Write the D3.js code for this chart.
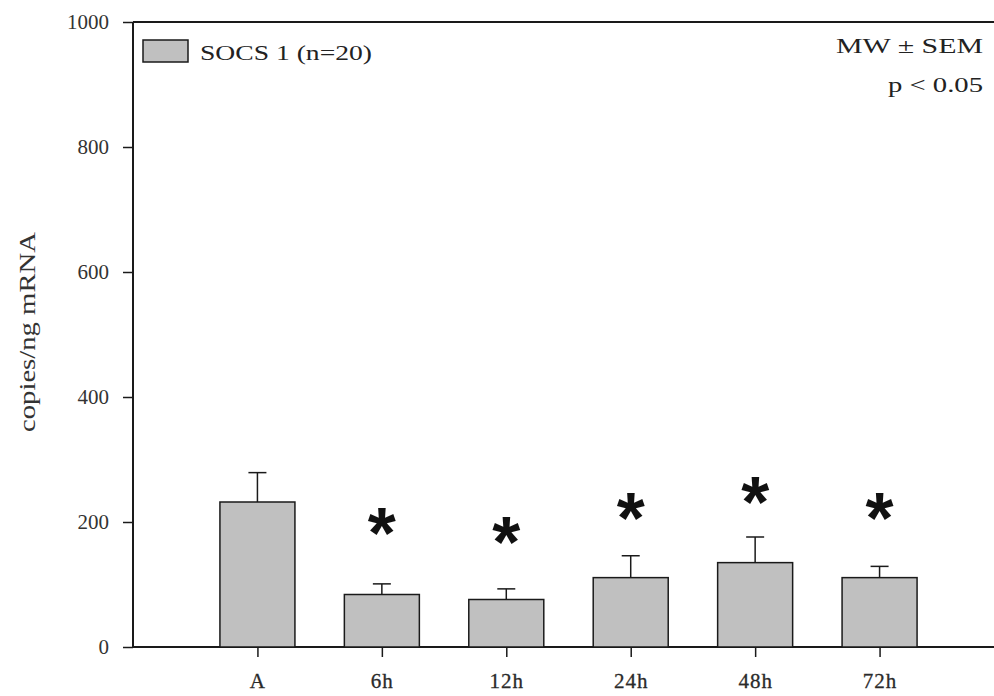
<!DOCTYPE html>
<html>
<head>
<meta charset="utf-8">
<script src="https://cdn.jsdelivr.net/npm/d3@7"></script>
<style>
  html, body { margin: 0; padding: 0; background: #fff; }
  svg { display: block; }
</style>
</head>
<body>
<svg id="chart" width="994" height="696"></svg>
<script>
// SOCS 1 expression over time (copies/ng mRNA), mean with SEM
const categories = ["A", "6h", "12h", "24h", "48h", "72h"];
const means = [232, 84, 76, 111, 135, 111];
const sems = [47, 17, 17, 35, 41, 18];
const significant = [false, true, true, true, true, true];
const starLevels = [null, 198, 184, 222, 248, 222];
const yTicks = [0, 200, 400, 600, 800, 1000];

const svg = d3.select("#chart");
const plotLeft = 133, plotTop = 22, plotBottom = 647, plotRight = 1004;

const x = d3.scaleLinear().domain([0, 7]).range([plotLeft, plotRight]);
const y = d3.scaleLinear().domain([0, 1000]).range([plotBottom, plotTop]);
const barW = 75;
const ink = "#1a1a1a";
const serif = "'Liberation Serif', 'Times New Roman', serif";

// Y axis
const yAxis = svg.append("g")
  .attr("transform", `translate(${plotLeft},0)`)
  .call(d3.axisLeft(y).tickValues(yTicks).tickSize(10).tickPadding(14).tickFormat(d3.format("d")));
yAxis.select(".domain").attr("stroke", ink).attr("stroke-width", 2).attr("d", `M0,${plotBottom}V${plotTop}`);
yAxis.selectAll(".tick line").attr("stroke", ink).attr("stroke-width", 1.5);
yAxis.selectAll(".tick text").attr("font-family", serif).attr("font-size", 21).attr("fill", "#333")
  .attr("dy", "0.3em");

// X axis
const xAxis = svg.append("g")
  .attr("transform", `translate(0,${plotBottom})`)
  .call(d3.axisBottom(x).tickValues(d3.range(1, categories.length + 1)).tickSize(10).tickPadding(16)
    .tickFormat(i => categories[i - 1]));
xAxis.select(".domain").attr("stroke", ink).attr("stroke-width", 2).attr("d", `M${plotLeft},0H${plotRight}`);
xAxis.selectAll(".tick line").attr("stroke", ink).attr("stroke-width", 1.5);
xAxis.selectAll(".tick text").attr("font-family", serif).attr("font-size", 21)
  .attr("letter-spacing", 1).attr("fill", "#2a2a2a")
  .attr("stroke", "#2a2a2a").attr("stroke-width", 0.3);

// Top frame line
svg.append("line").attr("x1", plotLeft).attr("x2", plotRight).attr("y1", plotTop).attr("y2", plotTop)
  .attr("stroke", ink).attr("stroke-width", 2);

const rows = categories.map((c, i) => ({ c, i, m: means[i], s: sems[i], sig: significant[i], star: starLevels[i] }));

// Error bars (upper half only)
const eb = svg.append("g").attr("stroke", ink).attr("stroke-width", 1.5);
eb.selectAll("line.v").data(rows).join("line").attr("class", "v")
  .attr("x1", d => x(d.i + 1)).attr("x2", d => x(d.i + 1))
  .attr("y1", d => y(d.m)).attr("y2", d => y(d.m + d.s));
eb.selectAll("line.cap").data(rows).join("line").attr("class", "cap")
  .attr("x1", d => x(d.i + 1) - 9).attr("x2", d => x(d.i + 1) + 9)
  .attr("y1", d => y(d.m + d.s)).attr("y2", d => y(d.m + d.s));

// Bars
svg.append("g").selectAll("rect").data(rows).join("rect")
  .attr("x", d => x(d.i + 1) - barW / 2).attr("width", barW)
  .attr("y", d => y(d.m)).attr("height", d => y(0) - y(d.m))
  .attr("fill", "#c0c0c0").attr("stroke", ink).attr("stroke-width", 1.5);

// Significance markers
svg.append("g").selectAll("text").data(rows.filter(d => d.sig)).join("text")
  .attr("x", d => x(d.i + 1)).attr("y", d => y(d.star) + 35)
  .attr("text-anchor", "middle")
  .attr("font-family", "'Liberation Sans', Arial, sans-serif").attr("font-weight", "bold")
  .attr("font-size", 72).attr("fill", "#111")
  .text("*");

// Axis title
svg.append("text")
  .attr("transform", "translate(35,332) rotate(-90)")
  .attr("text-anchor", "middle")
  .attr("font-family", serif).attr("font-size", 23).attr("fill", "#333")
  .attr("textLength", 200).attr("lengthAdjust", "spacingAndGlyphs")
  .text("copies/ng mRNA");

// Legend
svg.append("rect").attr("x", 143).attr("y", 40).attr("width", 45).attr("height", 22)
  .attr("fill", "#c0c0c0").attr("stroke", ink).attr("stroke-width", 1.5);
svg.append("text").attr("x", 200).attr("y", 60)
  .attr("font-family", serif).attr("font-size", 22).attr("fill", "#222")
  .attr("textLength", 172).attr("lengthAdjust", "spacingAndGlyphs")
  .text("SOCS 1 (n=20)");

// Annotation
const note = svg.append("g").attr("font-family", serif).attr("font-size", 21)
  .attr("fill", "#222").attr("text-anchor", "end");
note.append("text").attr("x", 983).attr("y", 53)
  .attr("textLength", 147).attr("lengthAdjust", "spacingAndGlyphs").text("MW ± SEM");
note.append("text").attr("x", 983).attr("y", 92)
  .attr("textLength", 95).attr("lengthAdjust", "spacingAndGlyphs").text("p < 0.05");
</script>
</body>
</html>
